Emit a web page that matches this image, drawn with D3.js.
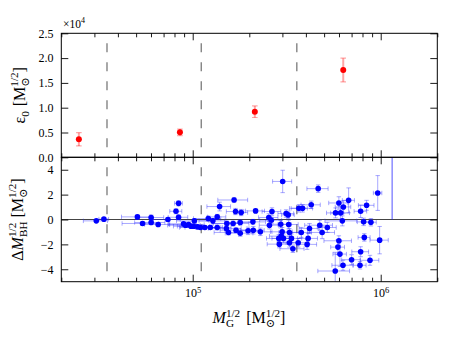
<!DOCTYPE html>
<html><head><meta charset="utf-8">
<script src="https://cdn.jsdelivr.net/npm/d3@7"></script>
<style>
html,body{margin:0;padding:0;background:#fff;}
svg{display:block;}
svg text{font-family:"Liberation Serif","Times New Roman","DejaVu Serif",serif !important;}
</style></head>
<body><svg id="c" width="450" height="338"></svg>
<script>
// ---------- data ----------
const binEdges = [3.5e4, 1.11e5, 3.58e5];
const topX = [2.48e4, 8.55e4, 2.14e5, 6.32e5];
const topY = [3630, 5040, 9190, 17600];
const topYerr = [1340, 650, 1170, 2380];
const topYTicks = [0, 5000, 10000, 15000, 20000, 25000];
const botYTicks = [-4, -2, 0, 2, 4];
const xMajorTicks = [1e5, 1e6];
const xMinorTicks = [2e4,3e4,4e4,5e4,6e4,7e4,8e4,9e4,2e5,3e5,4e5,5e5,6e5,7e5,8e5,9e5,2e6];
const xTickExps = ["5", "6"];

const botX = [3.07e4,3.37e4,5.08e4,5.41e4,6.01e4,6.01e4,6.55e4,7.38e4,8.15e4,8.41e4,
8.41e4,8.94e4,9.16e4,9.51e4,9.79e4,1.02e5,1.01e5,1.06e5,1.10e5,1.16e5,
1.21e5,1.24e5,1.28e5,1.35e5,1.39e5,1.35e5,1.51e5,1.55e5,1.66e5,1.69e5,
1.81e5,1.52e5,1.64e5,1.79e5,2.09e5,2.16e5,2.54e5,2.62e5,2.64e5,3.01e5,
3.14e5,3.22e5,3.67e5,3.84e5,4.27e5,2.94e5,3.24e5,1.70e5,1.79e5,1.97e5,
2.10e5,2.29e5,2.56e5,2.99e5,3.27e5,3.78e5,4.18e5,2.96e5,3.04e5,2.87e5,
3.35e5,3.27e5,2.89e5,3.64e5,4.11e5,3.41e5,4.06e5,4.65e5,9.64e5,5.99e5,
6.33e5,6.75e5,8.41e5,7.82e5,5.75e5,6.12e5,6.25e5,8.11e5,8.87e5,4.74e5,
5.20e5,4.88e5,5.99e5,8.18e5,9.87e5,5.92e5,6.07e5,7.82e5,7.00e5,8.77e5,
6.30e5,7.76e5,5.73e5];
const botY = [-0.11,0.03,0.21,-0.32,0.16,-0.24,-0.40,0.00,0.66,1.30,
0.18,-0.35,-0.46,-0.40,-0.54,-0.11,-0.54,-0.59,-0.64,-0.64,
0.08,-0.64,-0.11,0.21,1.04,-0.64,-0.72,-1.04,1.57,0.64,
0.56,-0.32,-0.32,-0.24,-0.19,0.69,0.16,-0.06,0.64,3.06,
0.48,0.37,0.90,0.90,1.18,-0.38,-0.40,-0.86,-1.10,-0.91,
-0.86,-0.99,-0.46,-0.99,-1.04,-1.04,-0.72,-1.34,-1.52,-1.52,
-1.52,-1.87,-1.98,-1.87,-1.52,-2.35,-2.00,2.48,2.13,1.33,
1.01,1.54,1.14,0.66,0.53,0.53,-0.11,-0.19,-0.22,-0.46,
-0.64,-1.04,-1.71,-1.44,-1.66,-2.22,-2.78,-2.59,-3.23,-3.28,
-3.68,-3.68,-4.14];
const botXerr = [0.45e4,0.2e4,0.9e4,1.2e4,1.0e4,1.1e4,1.0e4,1.2e4,0.6e4,0.4e4,
1.0e4,1.5e4,1.8e4,2.0e4,1.5e4,2.0e4,2.2e4,2.0e4,2.5e4,2.5e4,
2.0e4,2.0e4,2.0e4,1.5e4,2.0e4,2.5e4,3.0e4,2.5e4,3.0e4,1.8e4,
1.5e4,2.5e4,3.5e4,3.0e4,3.5e4,2.5e4,3.0e4,3.5e4,3.0e4,3.5e4,
3.0e4,2.5e4,4.0e4,5.0e4,5.0e4,4.0e4,4.0e4,3.0e4,3.0e4,3.0e4,
3.0e4,3.5e4,3.0e4,4.0e4,4.0e4,5.0e4,5.0e4,4.0e4,4.0e4,4.0e4,
4.5e4,4.5e4,4.0e4,5.0e4,5.0e4,5.0e4,5.0e4,6.0e4,5.0e4,7.0e4,
6.0e4,5.0e4,8.0e4,6.0e4,6.0e4,7.0e4,1.2e5,6.0e4,6.0e4,8.0e4,
6.0e4,8.0e4,1.0e5,6.0e4,1.1e5,5.0e4,5.0e4,8.0e4,8.0e4,1.0e5,
8.0e4,6.0e4,1.1e5];
const botYerr = [0.1,0.1,0.15,0.15,0.2,0.15,0.15,0.15,0.2,0.2,
0.2,0.15,0.15,0.2,0.15,0.15,0.15,0.15,0.15,0.15,
0.2,0.15,0.2,0.2,0.35,0.2,0.2,0.2,0.2,0.25,
0.25,0.2,0.2,0.2,0.2,0.15,0.3,0.25,0.3,0.9,
0.3,0.3,0.3,0.3,0.3,0.3,0.35,0.2,0.25,0.3,
0.3,0.3,0.3,0.35,0.3,0.4,0.4,0.3,0.35,0.3,
0.35,0.35,0.3,0.35,0.4,0.3,0.4,0.3,1.4,0.5,
0.5,1.0,0.4,0.5,0.4,0.5,0.4,0.3,0.3,0.4,
0.4,0.5,0.4,0.3,1.1,0.6,1.0,0.4,0.4,0.4,
0.4,0.3,1.5];
// single vertical segment seen at right of lower panel
const vSegX = [1.15e6];
const vSegY0 = [0];
const vSegY1 = [5];

// ---------- layout ----------
const L = 61.3, R = 437.3, T1 = 33.3, B1 = 157.3, T2 = 157.3, B2 = 281.7;
const svg = d3.select("#c");
const x = d3.scaleLog().domain([2e4, 2e6]).range([L, R]);
const yT = d3.scaleLinear().domain([0, 25000]).range([B1, T1]);
const yB = d3.scaleLinear().domain([-5, 5]).range([B2, T2]);

const defs = svg.append("defs");
defs.append("clipPath").attr("id","cT").append("rect").attr("x",L).attr("y",T1).attr("width",R-L).attr("height",B1-T1);
defs.append("clipPath").attr("id","cB").append("rect").attr("x",L).attr("y",T2).attr("width",R-L).attr("height",B2-T2);

const gT = svg.append("g").attr("clip-path","url(#cT)");
const gB = svg.append("g").attr("clip-path","url(#cB)");

// dashed bin edges
[[gT, yT, 25000, 0], [gB, yB, 5, -5]].forEach(([g, y, a, b]) => {
  g.selectAll("line.edge").data(binEdges).join("line")
    .attr("x1", d => x(d)).attr("x2", d => x(d))
    .attr("y1", y(a)).attr("y2", y(b))
    .attr("stroke", "#6e6e6e").attr("stroke-width", 1.2)
    .attr("stroke-dasharray", "9,10").attr("stroke-dashoffset", 9);
});
// zero line
gB.append("line").attr("x1", L).attr("x2", R).attr("y1", yB(0)).attr("y2", yB(0))
  .attr("stroke", "#444").attr("stroke-width", 1);

// ---------- top panel red points ----------
const redErr = "rgba(255,0,0,0.35)";
topX.forEach((xv, i) => {
  const cx = x(xv), y0 = yT(topY[i] - topYerr[i]), y1 = yT(topY[i] + topYerr[i]);
  gT.append("line").attr("x1",cx).attr("x2",cx).attr("y1",y0).attr("y2",y1).attr("stroke",redErr).attr("stroke-width",2);
  [y0, y1].forEach(yy => gT.append("line").attr("x1",cx-2.8).attr("x2",cx+2.8).attr("y1",yy).attr("y2",yy).attr("stroke",redErr).attr("stroke-width",1.2));
});
gT.selectAll("circle").data(topX).join("circle")
  .attr("cx", d => x(d)).attr("cy", (d, i) => yT(topY[i])).attr("r", 3).attr("fill", "#ff0000");

// ---------- bottom panel blue points ----------
const blueErr = "rgba(40,40,255,0.4)";
vSegX.forEach((xv, i) => {
  gB.append("line").attr("x1",x(xv)).attr("x2",x(xv)).attr("y1",yB(vSegY0[i])).attr("y2",yB(vSegY1[i]))
    .attr("stroke","rgba(40,40,255,0.8)").attr("stroke-width",1);
});
botX.forEach((xv, i) => {
  const cy = yB(botY[i]);
  const xa = x(Math.max(xv - botXerr[i], 1e3)), xb = x(xv + botXerr[i]);
  const ya = yB(botY[i] - botYerr[i]), yb = yB(botY[i] + botYerr[i]);
  const cx = x(xv);
  gB.append("line").attr("x1",xa).attr("x2",xb).attr("y1",cy).attr("y2",cy).attr("stroke",blueErr).attr("stroke-width",1);
  gB.append("line").attr("x1",cx).attr("x2",cx).attr("y1",ya).attr("y2",yb).attr("stroke",blueErr).attr("stroke-width",1);
  [xa, xb].forEach(xx => gB.append("line").attr("x1",xx).attr("x2",xx).attr("y1",cy-2.2).attr("y2",cy+2.2).attr("stroke",blueErr).attr("stroke-width",1));
  [ya, yb].forEach(yy => gB.append("line").attr("x1",cx-2.2).attr("x2",cx+2.2).attr("y1",yy).attr("y2",yy).attr("stroke",blueErr).attr("stroke-width",1));
});
gB.selectAll("circle.pt").data(botX).join("circle").attr("class","pt")
  .attr("cx", d => x(d)).attr("cy", (d, i) => yB(botY[i])).attr("r", 2.8).attr("fill", "#0000ff");

// ---------- axes ----------
function styleAxis(g) {
  g.attr("font-family", null);
  g.select(".domain").remove();
  g.selectAll(".tick line").attr("stroke", "#000").attr("stroke-width", 0.9);
  g.selectAll("text").attr("font-size", 12).attr("fill", "#000");
}
// x ticks on all horizontal spines
[[T1, "top"], [B1, "bottom"], [T2, "top"], [B2, "bottom"]].forEach(([yy, side]) => {
  const mk = side === "top" ? d3.axisTop : d3.axisBottom;
  svg.append("g").attr("transform", `translate(0,${yy})`)
    .call(mk(x).tickValues(xMinorTicks).tickSize(-4).tickFormat("")).call(styleAxis);
  const isLabelAxis = yy === B2;
  svg.append("g").attr("transform", `translate(0,${yy})`).attr("class", isLabelAxis ? "xlab" : null)
    .call(mk(x).tickValues(xMajorTicks).tickSize(-7).tickPadding(6.5)
      .tickFormat(isLabelAxis ? (() => "10") : "")).call(styleAxis);
});
svg.selectAll(".xlab .tick text").each(function(d, i) {
  d3.select(this).append("tspan").attr("dy", "-0.42em").attr("font-size", 8.5).text(xTickExps[i]);
});
// y ticks
svg.append("g").attr("transform", `translate(${L},0)`)
  .call(d3.axisLeft(yT).tickValues(topYTicks).tickSize(-7).tickPadding(7.8).tickFormat(d => (d / 1e4).toFixed(1))).call(styleAxis);
svg.append("g").attr("transform", `translate(${R},0)`)
  .call(d3.axisRight(yT).tickValues(topYTicks).tickSize(-7).tickFormat("")).call(styleAxis);
svg.append("g").attr("transform", `translate(${L},0)`)
  .call(d3.axisLeft(yB).tickValues(botYTicks).tickSize(-7).tickPadding(7.8).tickFormat(d3.format("d"))).call(styleAxis);
svg.append("g").attr("transform", `translate(${R},0)`)
  .call(d3.axisRight(yB).tickValues(botYTicks).tickSize(-7).tickFormat("")).call(styleAxis);

// spines
[[T1, B1], [T2, B2]].forEach(([a, b]) => {
  svg.append("rect").attr("x", L).attr("y", a).attr("width", R - L).attr("height", b - a)
    .attr("fill", "none").attr("stroke", "#000").attr("stroke-width", 1);
});

// ---------- math-like labels ----------
function mathText(parent, pieces, size) {
  const g = parent.append("g");
  let xPos = 0, lastStart = 0;
  pieces.forEach(p => {
    if (p.gap) { xPos += p.gap; return; }
    const fs = size * (p.sub || p.sup ? 0.7 : 1);
    const dy = p.sub ? size * 0.25 : p.sup ? -size * 0.42 : 0;
    const start = p.stack ? lastStart : xPos;
    const t = g.append("text").attr("x", start).attr("y", dy).attr("font-size", fs)
      .attr("font-style", p.it ? "italic" : "normal").attr("fill", "#000").text(p.t);
    const w = t.node().getComputedTextLength();
    if (p.stack) xPos = Math.max(xPos, start + w);
    else { lastStart = start; xPos = start + w; }
  });
  return { g, width: xPos };
}
const unitPieces = [{t:"["}, {t:"M"}, {t:"⊙", sub:true}, {t:"1/2", sup:true, stack:true}, {t:"]"}];
// x label
{
  const m = mathText(svg, [{t:"M", it:true}, {t:"G", sub:true}, {t:"1/2", sup:true, stack:true}, {gap: 6}].concat(unitPieces), 16);
  m.g.attr("transform", `translate(${249 - m.width / 2},323.3)`);
}
// top y label
{
  const m = mathText(svg, [{t:"ε"}, {t:"0", sub:true}, {gap: 5}].concat(unitPieces), 16);
  m.g.attr("transform", `translate(25,${(T1 + B1) / 2 + m.width / 2}) rotate(-90)`);
}
// bottom y label
{
  const m = mathText(svg, [{t:"Δ"}, {t:"M", it:true}, {t:"BH", sub:true}, {t:"1/2", sup:true, stack:true}, {gap: 4}].concat(unitPieces), 16);
  m.g.attr("transform", `translate(22.5,${(T2 + B2) / 2 + m.width / 2}) rotate(-90)`);
}
// offset text ×10^4
{
  const m = mathText(svg, [{t:"×10"}, {t:"4", sup:true}], 11.5);
  m.g.attr("transform", `translate(63,28)`);
}
</script></body></html>
